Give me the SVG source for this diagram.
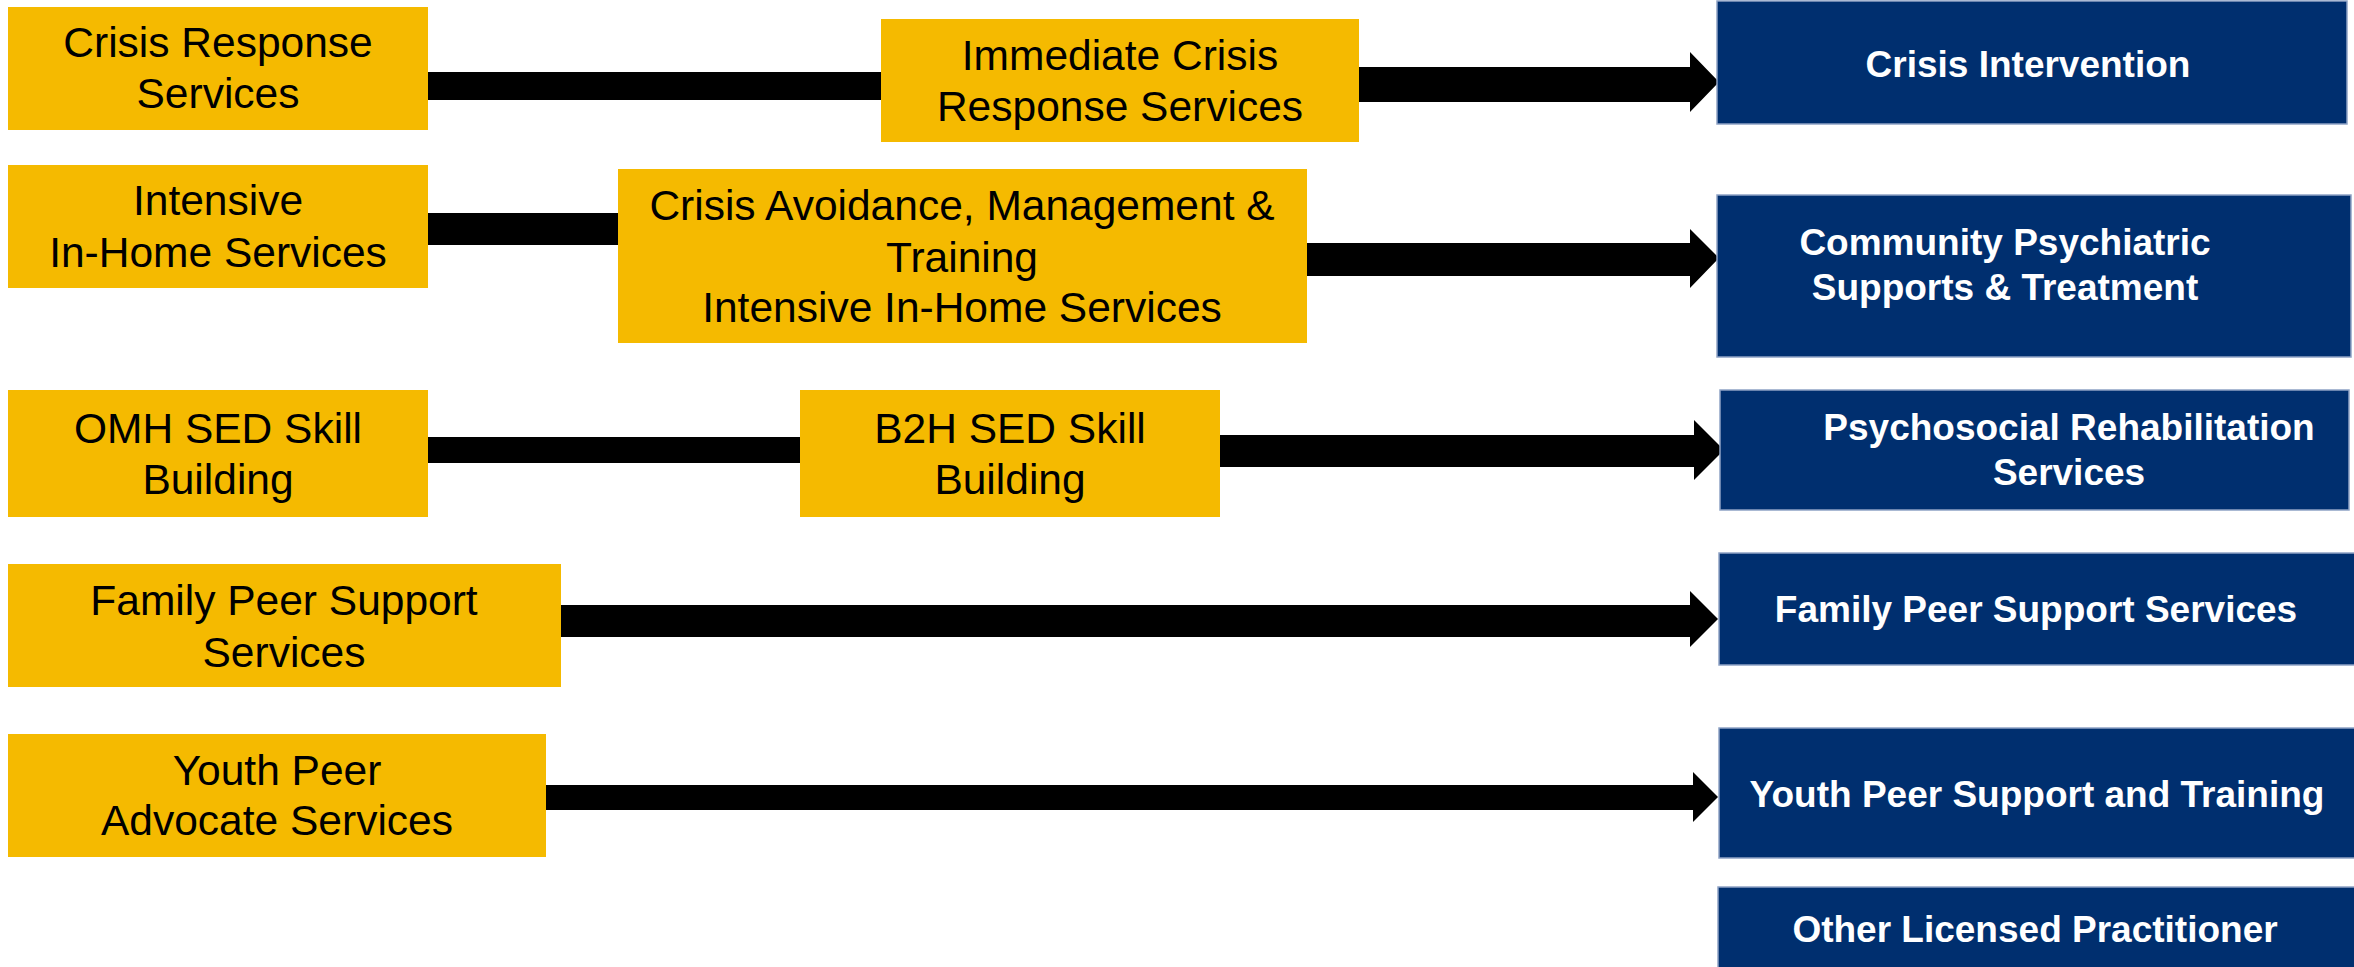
<svg xmlns="http://www.w3.org/2000/svg" width="2354" height="967" viewBox="0 0 2354 967">
<style>
.y{fill:#F5BA00}
.b{fill:#002F6F;stroke:#8FA3C5;stroke-width:1.5}
.yt{font-family:"Liberation Sans",Arial,sans-serif;font-size:42.5px;fill:#000;text-anchor:middle}
.bt{font-family:"Liberation Sans",Arial,sans-serif;font-size:37px;font-weight:bold;fill:#fff;text-anchor:middle}
.c{fill:#000}
</style>
<rect width="2354" height="967" fill="#fff"/>
<g id="connectors">
<rect class="c" x="428" y="72" width="453" height="28"/>
<rect class="c" x="428" y="213" width="190" height="32"/>
<rect class="c" x="428" y="437" width="372" height="26"/>
<polygon class="c" points="1359,67 1690,67 1690,52 1719,82 1690,112 1690,102 1359,102"/>
<polygon class="c" points="1307,243 1690,243 1690,229 1719,258 1690,288 1690,276 1307,276"/>
<polygon class="c" points="1220,435 1694,435 1694,420 1724,450 1694,480 1694,467 1220,467"/>
<polygon class="c" points="561,605 1690,605 1690,591 1718,619 1690,647 1690,637 561,637"/>
<polygon class="c" points="546,785 1693,785 1693,772 1718,797 1693,822 1693,810 546,810"/>
</g>
<g id="crisis-response">
<rect class="y" x="8" y="7" width="420" height="123"/>
<text class="yt" x="218" y="57">Crisis Response</text>
<text class="yt" x="218" y="108">Services</text>
</g>
<g id="immediate-crisis">
<rect class="y" x="881" y="19" width="478" height="123"/>
<text class="yt" x="1120" y="70">Immediate Crisis</text>
<text class="yt" x="1120" y="121">Response Services</text>
</g>
<g id="crisis-intervention">
<rect class="b" x="1717" y="1" width="630" height="123"/>
<text class="bt" x="2028" y="77">Crisis Intervention</text>
</g>
<g id="intensive-in-home">
<rect class="y" x="8" y="165" width="420" height="123"/>
<text class="yt" x="218" y="215">Intensive</text>
<text class="yt" x="218" y="267">In-Home Services</text>
</g>
<g id="crisis-avoidance">
<rect class="y" x="618" y="169" width="689" height="174"/>
<text class="yt" x="962" y="220">Crisis Avoidance, Management &amp;</text>
<text class="yt" x="962" y="272">Training</text>
<text class="yt" x="962" y="322">Intensive In-Home Services</text>
</g>
<g id="cpst">
<rect class="b" x="1717" y="195" width="634" height="162"/>
<text class="bt" x="2005" y="255">Community Psychiatric</text>
<text class="bt" x="2005" y="300">Supports &amp; Treatment</text>
</g>
<g id="omh-sed">
<rect class="y" x="8" y="390" width="420" height="127"/>
<text class="yt" x="218" y="443">OMH SED Skill</text>
<text class="yt" x="218" y="494">Building</text>
</g>
<g id="b2h-sed">
<rect class="y" x="800" y="390" width="420" height="127"/>
<text class="yt" x="1010" y="443">B2H SED Skill</text>
<text class="yt" x="1010" y="494">Building</text>
</g>
<g id="psychosocial">
<rect class="b" x="1720" y="390" width="629" height="120"/>
<text class="bt" x="2069" y="440">Psychosocial Rehabilitation</text>
<text class="bt" x="2069" y="485">Services</text>
</g>
<g id="family-peer">
<rect class="y" x="8" y="564" width="553" height="123"/>
<text class="yt" x="284" y="615">Family Peer Support</text>
<text class="yt" x="284" y="667">Services</text>
</g>
<g id="family-peer-services">
<rect class="b" x="1719" y="553" width="640" height="112"/>
<text class="bt" x="2036" y="622">Family Peer Support Services</text>
</g>
<g id="youth-peer">
<rect class="y" x="8" y="734" width="538" height="123"/>
<text class="yt" x="277" y="785">Youth Peer</text>
<text class="yt" x="277" y="835">Advocate Services</text>
</g>
<g id="youth-peer-support">
<rect class="b" x="1719" y="728" width="640" height="130"/>
<text class="bt" x="2037" y="807">Youth Peer Support and Training</text>
</g>
<g id="olp">
<rect class="b" x="1718" y="887" width="640" height="90"/>
<text class="bt" x="2035" y="942">Other Licensed Practitioner</text>
</g>
</svg>
